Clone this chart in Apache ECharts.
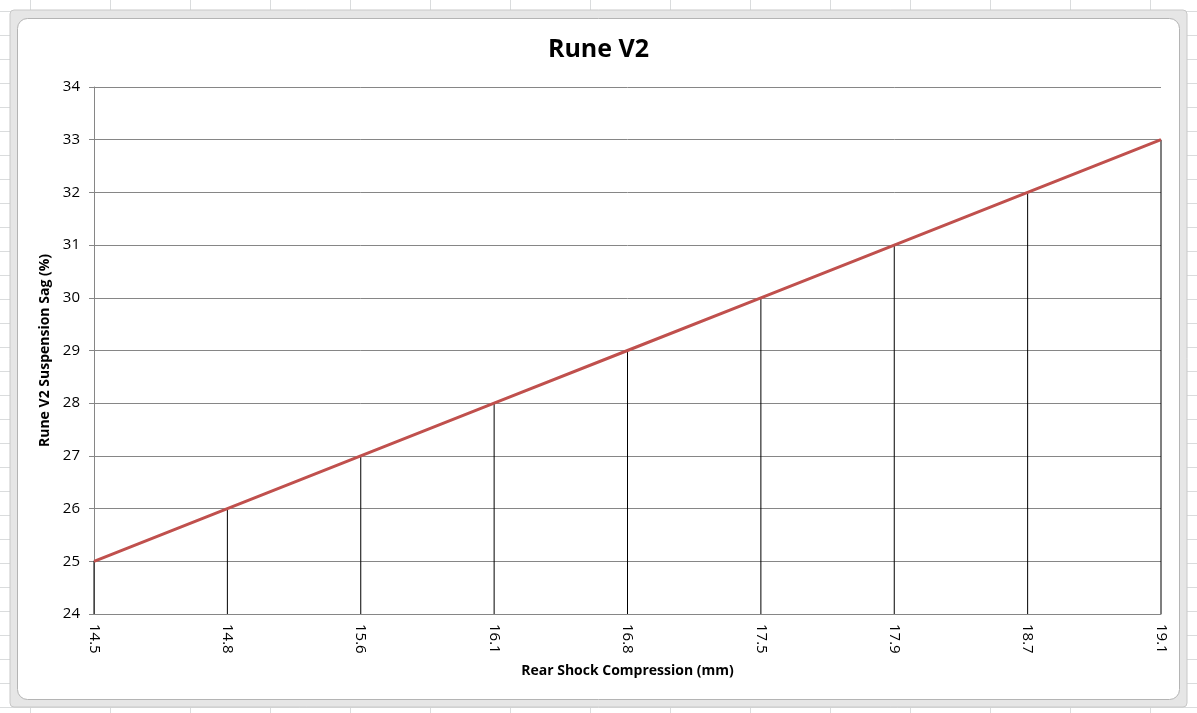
<!DOCTYPE html>
<html><head><meta charset="utf-8">
<script src="https://cdn.jsdelivr.net/npm/echarts@6/dist/echarts.min.js"></script>
<style>html,body{margin:0;padding:0;background:#fff}#c{width:1197px;height:713px}</style>
</head><body><div id="c"></div>
<script>
const categories = ['14.5','14.8','15.6','16.1','16.8','17.5','17.9','18.7','19.1'];
const sagValues = [25,26,27,28,29,30,31,32,33];
const yTicks = {min:24,max:34,interval:1};

const chart = echarts.init(document.getElementById('c'), null, {renderer:'canvas'});
const W=1197,H=713;
const bg=[];
for(let x=30;x<W;x+=80) bg.push({type:'line',silent:true,z:-10,shape:{x1:x+0.5,y1:0,x2:x+0.5,y2:H},style:{stroke:'#dadcdd',lineWidth:1}});
for(let y=11;y<H;y+=24) bg.push({type:'line',silent:true,z:-10,shape:{x1:0,y1:y+0.5,x2:W,y2:y+0.5},style:{stroke:'#dadcdd',lineWidth:1}});
bg.push({type:'rect',silent:true,z:-9,shape:{x:10,y:10,width:1177,height:697,r:4},style:{fill:'#e6e6e6',stroke:'#c8c8c8',lineWidth:1}});
bg.push({type:'rect',silent:true,z:-8,shape:{x:17.5,y:18.5,width:1162,height:681,r:10},style:{fill:'#ffffff',stroke:'#b4b4b4',lineWidth:1}});

const FONT='"Open Sans", Lato, sans-serif';
chart.setOption({
  animation:false,
  graphic:bg,
  title:{text:'Rune V2',left:'center',top:32,textStyle:{fontFamily:FONT,fontSize:25,fontWeight:'bold',color:'#000'}},
  grid:{left:94,right:36,top:87,bottom:99,containLabel:false},
  xAxis:{
    type:'category',data:categories,boundaryGap:false,
    name:'Rear Shock Compression (mm)',nameLocation:'middle',nameGap:50,
    nameTextStyle:{fontFamily:FONT,fontSize:14,fontWeight:'bold',color:'#000'},
    axisLine:{lineStyle:{color:'#868686',width:1}},
    axisTick:{show:false},
    axisLabel:{rotate:-90,margin:10,fontFamily:FONT,fontSize:15,color:'#000'},
    splitLine:{show:false}
  },
  yAxis:{
    type:'value',min:yTicks.min,max:yTicks.max,interval:yTicks.interval,
    name:'Rune V2 Suspension Sag (%)',nameLocation:'middle',nameGap:38,
    nameTextStyle:{fontFamily:FONT,fontSize:14,fontWeight:'bold',color:'#000'},
    axisLine:{show:true,lineStyle:{color:'#868686',width:1}},
    axisTick:{show:true,length:5,lineStyle:{color:'#868686'}},
    axisLabel:{margin:14,fontFamily:FONT,fontSize:15,color:'#000'},
    splitLine:{show:true,lineStyle:{color:'#868686',width:1}}
  },
  series:[
    {type:'bar',data:sagValues,barWidth:1,itemStyle:{color:'#000'},z:2,silent:true},
    {type:'line',data:sagValues,symbol:'none',lineStyle:{color:'#c0504d',width:3},z:3,silent:true}
  ]
});
</script></body></html>
